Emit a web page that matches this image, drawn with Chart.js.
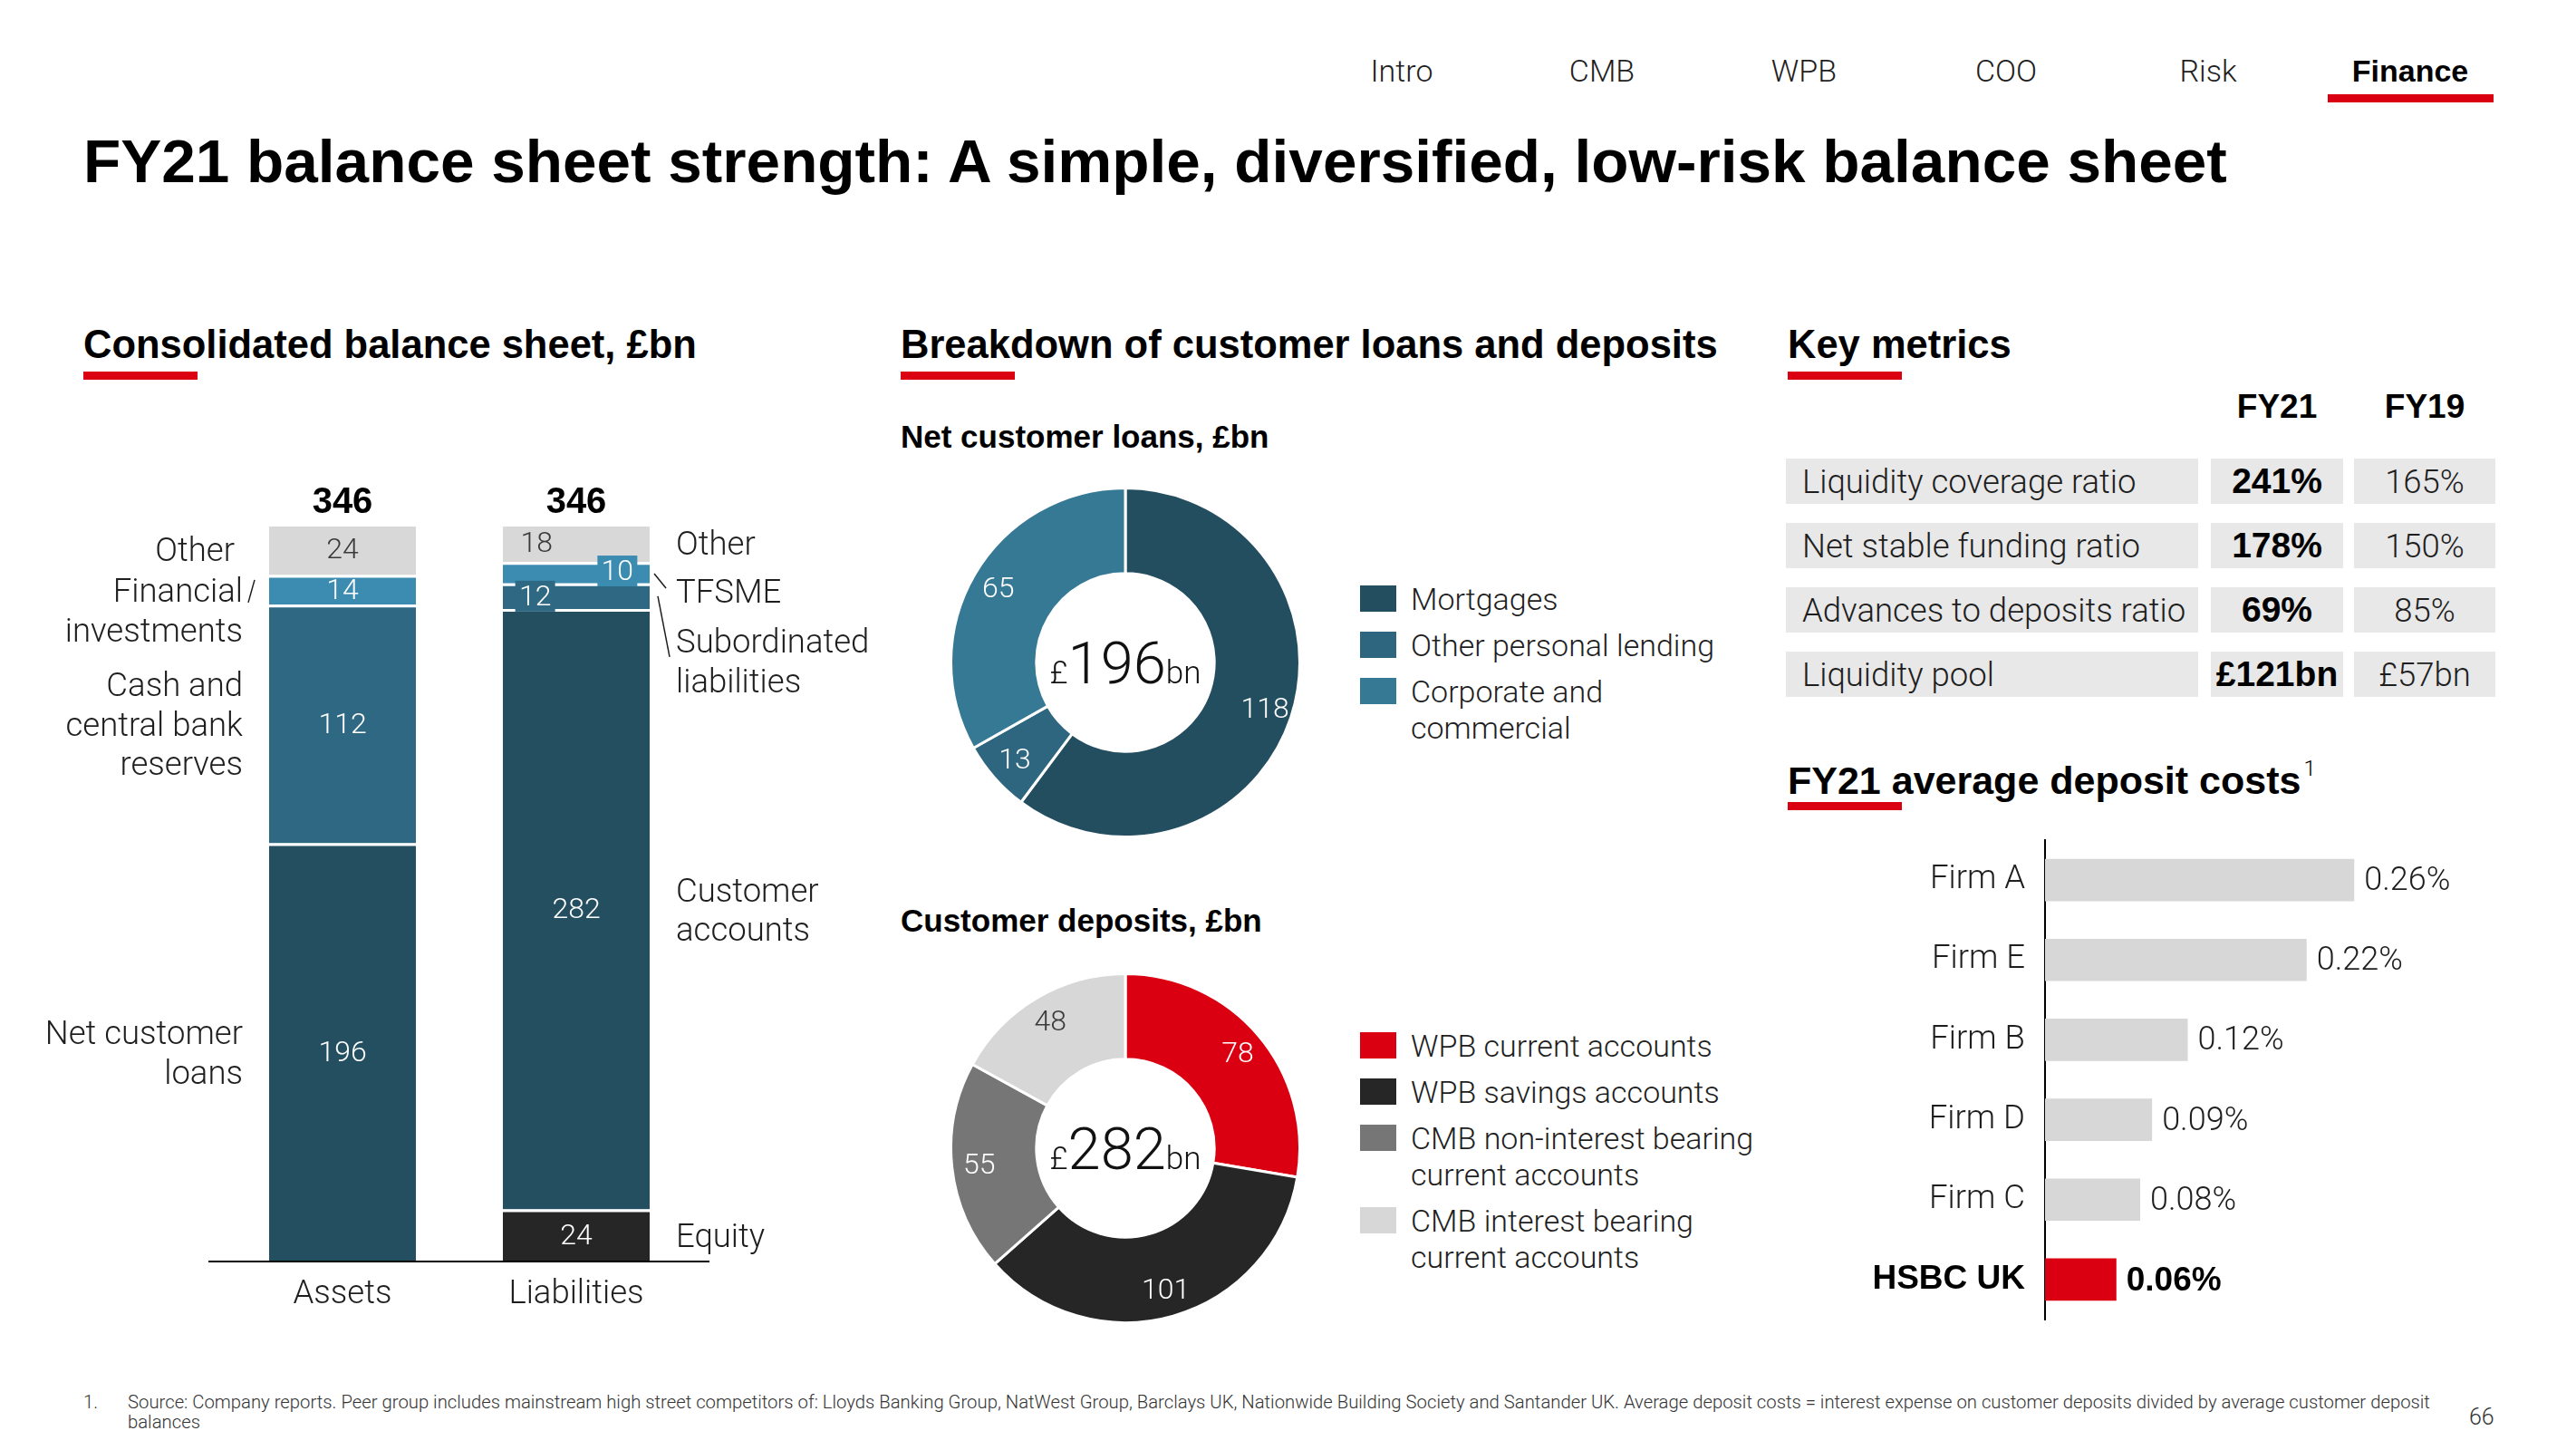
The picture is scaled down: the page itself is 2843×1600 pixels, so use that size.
<!DOCTYPE html>
<html>
<head>
<meta charset="utf-8">
<script src="https://cdn.jsdelivr.net/npm/chart.js@4.4.1/dist/chart.umd.min.js"></script>
<style>
  body { margin: 0; background: #fff; }
  #page { position: relative; width: 2843px; height: 1600px; overflow: hidden;
          font-family: Roboto, "Liberation Sans", sans-serif; font-weight: 300; color: #1e1e1e; }
  .t { position: absolute; line-height: 1; transform: translateY(-50%); white-space: nowrap; }
  .c { transform: translate(-50%, -50%); }
  .b { font-family: "Liberation Sans", Arial, sans-serif; font-weight: 700; color: #000; }
  .red { position: absolute; background: #db0011; }
  .box { position: absolute; }
  .cell { position: absolute; background: #e8e8e8; height: 50px; display: flex; align-items: center; font-size: 36.5px; }
  .legend { position: absolute; left: 1501px; }
  .lg-item { display: flex; align-items: flex-start; margin-bottom: 11px; }
  .sw { width: 40px; height: 29px; margin-top: 5px; margin-right: 16px; flex: none; }
  .lg-text { font-size: 34px; line-height: 40px; white-space: pre-line; }
</style>
</head>
<body>
<div id="page">
  <div id="nav"></div>
  <div class="red" style="left:2569px;top:104px;width:183px;height:9px"></div>

  <div class="t b" style="left:92px;top:178px;font-size:67.5px">FY21 balance sheet strength: A simple, diversified, low-risk balance sheet</div>

  <div class="t b" style="left:92px;top:381px;font-size:43.5px">Consolidated balance sheet, £bn</div>
  <div class="red" style="left:92px;top:410px;width:126px;height:9px"></div>
  <div class="t b" style="left:994px;top:381px;font-size:43.5px">Breakdown of customer loans and deposits</div>
  <div class="red" style="left:994px;top:410px;width:126px;height:9px"></div>
  <div class="t b" style="left:1973px;top:381px;font-size:43.5px">Key metrics</div>
  <div class="red" style="left:1973px;top:410px;width:126px;height:9px"></div>

  <div class="t b" style="left:994px;top:481px;font-size:35px">Net customer loans, £bn</div>
  <div class="t b" style="left:994px;top:1015px;font-size:35px">Customer deposits, £bn</div>

  <div class="box" style="left:0;top:500px"><canvas id="bs" width="1000" height="961"></canvas></div>
  <div class="box" style="left:1048px;top:537px"><canvas id="loans" width="388" height="388"></canvas></div>
  <div class="box" style="left:1048px;top:1073px"><canvas id="deposits" width="388" height="388"></canvas></div>
  <div class="legend" id="loansLegend" style="top:641px"></div>
  <div class="legend" id="depositsLegend" style="top:1134px"></div>

  <div id="metrics"></div>

  <div class="t b" style="left:1973px;top:859px;font-size:43px">FY21 average deposit costs<sup style="font-family:Roboto;font-weight:300;font-size:24px;vertical-align:20px;margin-left:3px">1</sup></div>
  <div class="red" style="left:1973px;top:885px;width:126px;height:9px"></div>
  <div class="box" style="left:1990px;top:900px"><canvas id="costs" width="853" height="580"></canvas></div>

  <div class="t" style="left:92px;top:1547px;font-size:20.3px;color:#333">1.</div>
  <div class="t" style="left:141px;top:1558px;font-size:20.3px;line-height:22px;color:#333">Source: Company reports. Peer group includes mainstream high street competitors of: Lloyds Banking Group, NatWest Group, Barclays UK, Nationwide Building Society and Santander UK. Average deposit costs = interest expense on customer deposits divided by average customer deposit<br>balances</div>
  <div class="t" style="left:2725px;top:1563px;font-size:25px;color:#333">66</div>
</div>

<script>
// ---- data ----
const NAV_ITEMS = ['Intro', 'CMB', 'WPB', 'COO', 'Risk', 'Finance'];
const NAV_ACTIVE = 'Finance';

const BS_CATEGORIES = ['Assets', 'Liabilities'];
const ASSET_ITEMS = ['Net customer\nloans', 'Cash and\ncentral bank\nreserves', 'Financial\ninvestments', 'Other'];
const ASSET_VALUES = [196, 112, 14, 24];
const LIABILITY_ITEMS = ['Equity', 'Customer\naccounts', 'Subordinated\nliabilities', 'TFSME', 'Other'];
const LIABILITY_VALUES = [24, 282, 12, 10, 18];

const LOAN_LABELS = ['Mortgages', 'Other personal lending', 'Corporate and\ncommercial'];
const LOAN_VALUES = [118, 13, 65];
const DEPOSIT_LABELS = ['WPB current accounts', 'WPB savings accounts', 'CMB non-interest bearing\ncurrent accounts', 'CMB interest bearing\ncurrent accounts'];
const DEPOSIT_VALUES = [78, 101, 55, 48];

const METRIC_NAMES = ['Liquidity coverage ratio', 'Net stable funding ratio', 'Advances to deposits ratio', 'Liquidity pool'];
const METRIC_YEARS = ['FY21', 'FY19'];
const METRIC_FY21 = ['241%', '178%', '69%', '£121bn'];
const METRIC_FY19 = ['165%', '150%', '85%', '£57bn'];

const FIRMS = ['Firm A', 'Firm E', 'Firm B', 'Firm D', 'Firm C', 'HSBC UK'];
const DEPOSIT_COSTS = [0.26, 0.22, 0.12, 0.09, 0.08, 0.06];

// ---- styles ----
const FONT_LIGHT = 'Roboto, "Liberation Sans", sans-serif';
const FONT_BOLD = '"Liberation Sans", Arial, sans-serif';
const RED = '#db0011';
const TEAL_DARK = '#234f60';
const TEAL_MID = '#2e6882';
const TEAL_LIGHT = '#3c8cb1';
const GREY_LIGHT = '#d8d8d8';
const INK = '#262626';

const ASSET_COLORS = [TEAL_DARK, TEAL_MID, TEAL_LIGHT, GREY_LIGHT];
const LIABILITY_COLORS = [INK, TEAL_DARK, TEAL_MID, TEAL_LIGHT, GREY_LIGHT];
// value label tweaks: dx = share of bar width, box = draw a patch behind the number
const ASSET_VALUE_STYLE = [{}, {}, {}, { dark: true }];
const LIABILITY_VALUE_STYLE = [{}, {}, { dx: -0.28, box: true }, { dx: 0.28, box: true, dy: -2 }, { dx: -0.27, dark: true }];
// name label tweaks: dy = shift of the text block, leader = [x1, y1, x2, y2] from bar edge / segment middle
const ASSET_NAME_STYLE = [{}, {}, { dy: 22, leader: [-23, 14, -16, -11] }, { dx: -9 }];
const LIABILITY_NAME_STYLE = [{}, {}, { dy: 71, leader: [9, 0, 22, 67] }, { dy: 20, leader: [5, 1, 18, 17] }, {}];

const LOAN_COLORS = ['#234e5f', '#2e6680', '#357995'];
const LOAN_LABEL_COLORS = ['#fff', '#fff', '#fff'];
const DEPOSIT_COLORS = [RED, INK, '#767676', '#d7d7d7'];
const DEPOSIT_LABEL_COLORS = ['#fff', '#fff', '#fff', '#3a3a3a'];

Chart.defaults.font.family = FONT_LIGHT;
Chart.defaults.font.weight = '300';
Chart.defaults.color = '#222';

// ---- page text ----
(() => {
  const navX = [1547, 1768, 1991, 2214, 2437, 2660];
  document.getElementById('nav').innerHTML = NAV_ITEMS.map((n, i) =>
    `<div class="t c ${n === NAV_ACTIVE ? 'b' : ''}" style="left:${navX[i]}px;top:78px;font-size:34px">${n}</div>`).join('');

  const cols = [[2440, 146], [2598, 156]];
  let html = METRIC_YEARS.map((y, j) =>
    `<div class="t c b" style="left:${cols[j][0] + cols[j][1] / 2}px;top:448px;font-size:37px">${y}</div>`).join('');
  METRIC_NAMES.forEach((name, i) => {
    const top = 506 + i * 71;
    html += `<div class="cell" style="left:1971px;top:${top}px;width:455px"><span style="margin-left:18px">${name}</span></div>`;
    html += `<div class="cell b" style="left:${cols[0][0]}px;top:${top}px;width:${cols[0][1]}px;justify-content:center;font-size:39px">${METRIC_FY21[i]}</div>`;
    html += `<div class="cell" style="left:${cols[1][0]}px;top:${top}px;width:${cols[1][1]}px;justify-content:center">${METRIC_FY19[i]}</div>`;
  });
  document.getElementById('metrics').innerHTML = html;

  const legend = (id, labels, colors) => {
    document.getElementById(id).innerHTML = labels.map((l, i) =>
      `<div class="lg-item"><div class="sw" style="background:${colors[i]}"></div><div class="lg-text">${l}</div></div>`).join('');
  };
  legend('loansLegend', LOAN_LABELS, LOAN_COLORS);
  legend('depositsLegend', DEPOSIT_LABELS, DEPOSIT_COLORS);
})();

// ---- consolidated balance sheet ----
const bsDatasets = [];
ASSET_ITEMS.forEach((name, i) => bsDatasets.push({
  label: name, data: [ASSET_VALUES[i], null], backgroundColor: ASSET_COLORS[i],
  side: 'left', valueStyle: ASSET_VALUE_STYLE[i], nameStyle: ASSET_NAME_STYLE[i],
}));
LIABILITY_ITEMS.forEach((name, i) => bsDatasets.push({
  label: name, data: [null, LIABILITY_VALUES[i]], backgroundColor: LIABILITY_COLORS[i],
  side: 'right', valueStyle: LIABILITY_VALUE_STYLE[i], nameStyle: LIABILITY_NAME_STYLE[i],
}));
bsDatasets.forEach(ds => Object.assign(ds, {
  borderColor: '#fff', borderWidth: { top: 3, right: 0, bottom: 0, left: 0 }, borderSkipped: false,
  barPercentage: 0.628, categoryPercentage: 1,
}));
const BS_TOTALS = BS_CATEGORIES.map((_, i) => bsDatasets.reduce((s, ds) => s + (ds.data[i] || 0), 0));

const bsLabels = {
  id: 'bsLabels',
  afterDatasetsDraw(chart) {
    const ctx = chart.ctx;
    const area = chart.chartArea;
    ctx.save();
    // base line, a bit wider than the bars
    ctx.strokeStyle = '#000';
    ctx.lineWidth = 2;
    ctx.beginPath();
    ctx.moveTo(area.left - 19, area.bottom + 1);
    ctx.lineTo(area.right + 18, area.bottom + 1);
    ctx.stroke();

    const tops = [Infinity, Infinity];
    chart.data.datasets.forEach((ds, di) => {
      chart.getDatasetMeta(di).data.forEach((bar, i) => {
        const v = ds.data[i];
        if (v == null) return;
        const p = bar.getProps(['x', 'y', 'base', 'width'], true);
        const top = Math.min(p.y, p.base);
        const mid = (p.y + p.base) / 2;
        tops[i] = Math.min(tops[i], top);
        const vs = ds.valueStyle;
        const vx = p.x + (vs.dx || 0) * p.width;
        const vy = mid + (vs.dy || 0);
        if (vs.box) {
          ctx.fillStyle = ds.backgroundColor;
          ctx.fillRect(vx - 22, vy - 17, 44, 34);
        }
        ctx.font = `300 32px ${FONT_LIGHT}`;
        ctx.textAlign = 'center';
        ctx.textBaseline = 'middle';
        ctx.fillStyle = vs.dark ? '#3a3a3a' : '#fff';
        ctx.fillText(String(v), vx, vy + 2);

        const ns = ds.nameStyle;
        const lines = ds.label.split('\n');
        const lh = 43.5;
        const left = ds.side === 'left';
        const edge = left ? p.x - p.width / 2 : p.x + p.width / 2;
        const nx = left ? edge - 29 + (ns.dx || 0) : edge + 29 + (ns.dx || 0);
        const ny = mid + (ns.dy || 0) - (lines.length - 1) * lh / 2 + 4;
        ctx.font = `300 36.5px ${FONT_LIGHT}`;
        ctx.textAlign = left ? 'right' : 'left';
        ctx.fillStyle = '#1e1e1e';
        lines.forEach((l, k) => ctx.fillText(l, nx, ny + k * lh));
        if (ns.leader) {
          const [x1, y1, x2, y2] = ns.leader;
          ctx.strokeStyle = '#1e1e1e';
          ctx.lineWidth = 1.5;
          ctx.beginPath();
          ctx.moveTo(edge + x1, mid + y1);
          ctx.lineTo(edge + x2, mid + y2);
          ctx.stroke();
        }
      });
    });

    ctx.font = `700 40px ${FONT_BOLD}`;
    ctx.textAlign = 'center';
    ctx.textBaseline = 'middle';
    ctx.fillStyle = '#000';
    chart.getDatasetMeta(0).data.forEach((_, i) => {
      const x = chart.scales.x.getPixelForValue(i);
      ctx.fillText(String(BS_TOTALS[i]), x, tops[i] - 23);
    });
    ctx.restore();
  },
};

new Chart(document.getElementById('bs'), {
  type: 'bar',
  data: { labels: BS_CATEGORIES, datasets: bsDatasets },
  options: {
    responsive: false,
    animation: false,
    devicePixelRatio: 1,
    layout: { padding: { left: 249, right: 235, top: 78, bottom: 0 } },
    scales: {
      x: {
        stacked: true,
        grid: { display: false },
        border: { display: false },
        ticks: { padding: 8, color: '#1e1e1e', font: { size: 36.5, weight: '300' } },
        afterFit: s => { s.height = 70; },
      },
      y: { stacked: true, display: false, min: 0, max: Math.max(...BS_TOTALS) },
    },
    plugins: { legend: { display: false }, tooltip: { enabled: false } },
  },
  plugins: [bsLabels],
});

// ---- doughnuts ----
const donutLabels = {
  id: 'donutLabels',
  afterDatasetsDraw(chart) {
    const ctx = chart.ctx;
    const ds = chart.data.datasets[0];
    const arcs = chart.getDatasetMeta(0).data;
    ctx.save();
    ctx.font = `300 32px ${FONT_LIGHT}`;
    ctx.textAlign = 'center';
    ctx.textBaseline = 'middle';
    let cx = 0, cy = 0;
    arcs.forEach((arc, i) => {
      const p = arc.getProps(['x', 'y', 'startAngle', 'endAngle', 'innerRadius', 'outerRadius'], true);
      cx = p.x; cy = p.y;
      const a = (p.startAngle + p.endAngle) / 2;
      const r = p.innerRadius + (p.outerRadius - p.innerRadius) * 0.68;
      ctx.fillStyle = ds.labelColors[i];
      ctx.fillText(String(ds.data[i]), p.x + Math.cos(a) * r, p.y + Math.sin(a) * r + 2);
    });
    // total in the hole
    const total = ds.data.reduce((s, v) => s + v, 0);
    const parts = [['£', 35], [String(total), 65], ['bn', 35]];
    ctx.textAlign = 'left';
    ctx.textBaseline = 'alphabetic';
    ctx.fillStyle = '#111';
    const widths = parts.map(([s, size]) => { ctx.font = `300 ${size}px ${FONT_LIGHT}`; return ctx.measureText(s).width; });
    let x = cx - widths.reduce((s, w) => s + w, 0) / 2;
    parts.forEach(([s, size], k) => {
      ctx.font = `300 ${size}px ${FONT_LIGHT}`;
      ctx.fillText(s, x, cy + 23);
      x += widths[k];
    });
    ctx.restore();
  },
};

function makeDonut(id, labels, values, colors, labelColors) {
  return new Chart(document.getElementById(id), {
    type: 'doughnut',
    data: {
      labels,
      datasets: [{ data: values, backgroundColor: colors, labelColors, borderColor: '#fff', borderWidth: 3, hoverOffset: 0 }],
    },
    options: {
      responsive: false,
      animation: false,
      devicePixelRatio: 1,
      cutout: '51%',
      plugins: { legend: { display: false }, tooltip: { enabled: false } },
    },
    plugins: [donutLabels],
  });
}
makeDonut('loans', LOAN_LABELS, LOAN_VALUES, LOAN_COLORS, LOAN_LABEL_COLORS);
makeDonut('deposits', DEPOSIT_LABELS, DEPOSIT_VALUES, DEPOSIT_COLORS, DEPOSIT_LABEL_COLORS);

// ---- average deposit costs ----
const isHsbc = i => FIRMS[i] === 'HSBC UK';
const costLabels = {
  id: 'costLabels',
  afterDatasetsDraw(chart) {
    const ctx = chart.ctx;
    ctx.save();
    ctx.textAlign = 'left';
    ctx.textBaseline = 'middle';
    chart.getDatasetMeta(0).data.forEach((bar, i) => {
      const p = bar.getProps(['x', 'y'], true);
      ctx.font = isHsbc(i) ? `700 37px ${FONT_BOLD}` : `300 36px ${FONT_LIGHT}`;
      ctx.fillStyle = isHsbc(i) ? '#000' : '#1e1e1e';
      ctx.fillText(DEPOSIT_COSTS[i].toFixed(2) + '%', p.x + 11, p.y + 2);
    });
    ctx.restore();
  },
};

new Chart(document.getElementById('costs'), {
  type: 'bar',
  data: {
    labels: FIRMS,
    datasets: [{
      data: DEPOSIT_COSTS,
      backgroundColor: FIRMS.map((_, i) => isHsbc(i) ? RED : '#d7d7d7'),
      barPercentage: 0.53,
      categoryPercentage: 1,
    }],
  },
  options: {
    indexAxis: 'y',
    responsive: false,
    animation: false,
    devicePixelRatio: 1,
    layout: { padding: { top: 27, bottom: 24, right: 61, left: 0 } },
    scales: {
      x: { display: false, min: 0, max: 0.4 },
      y: {
        afterFit: s => { s.width = 267; s.paddingTop = 0; s.paddingBottom = 0; },
        grid: { display: false },
        border: { display: true, color: '#000', width: 2 },
        ticks: {
          padding: 14,
          color: c => isHsbc(c.index) ? '#000' : '#1e1e1e',
          font: c => isHsbc(c.index)
            ? { family: FONT_BOLD, size: 37, weight: '700' }
            : { family: FONT_LIGHT, size: 36.5, weight: '300' },
        },
      },
    },
    plugins: { legend: { display: false }, tooltip: { enabled: false } },
  },
  plugins: [costLabels],
});
</script>
</body>
</html>
